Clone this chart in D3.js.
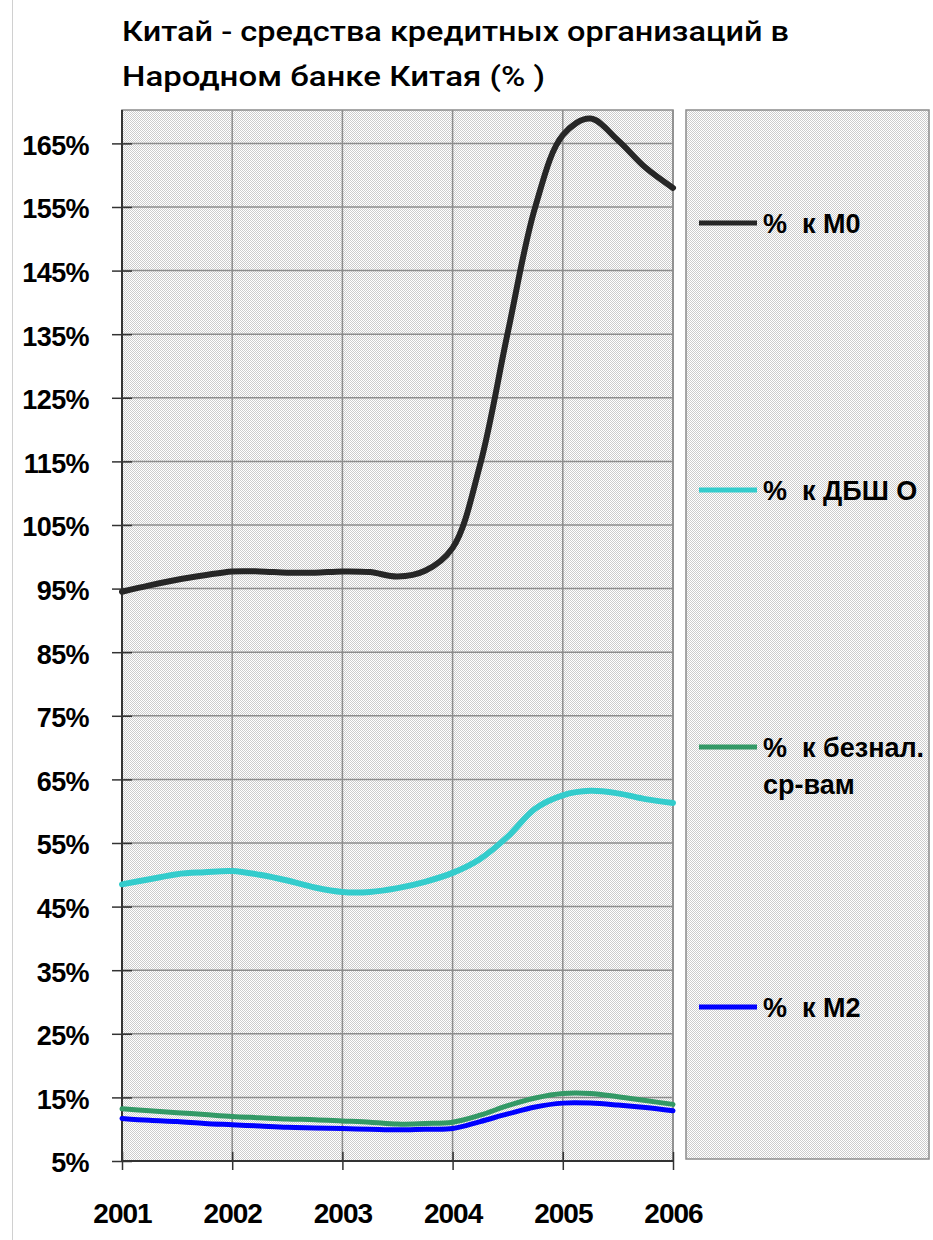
<!DOCTYPE html>
<html>
<head>
<meta charset="utf-8">
<title>Китай - средства кредитных организаций</title>
<script src="https://d3js.org/d3.v7.min.js"></script>
<style>
  body { margin: 0; background: #fff; }
  svg text { font-family: "Liberation Sans", Arial, sans-serif; fill: #000; }
  .lbl { font-weight: bold; font-size: 27px; }
  .title { font-family: Roboto, "Liberation Sans", Arial, sans-serif; font-weight: 500; font-size: 28px; }
</style>
</head>
<body>
<svg id="chart" width="933" height="1240"></svg>
<script>
// quarterly points, 2001 - 2006
const periods = [2001, 2001.25, 2001.5, 2001.75, 2002, 2002.25, 2002.5, 2002.75,
                 2003, 2003.25, 2003.5, 2003.75, 2004, 2004.25, 2004.5, 2004.75,
                 2005, 2005.25, 2005.5, 2005.75, 2006];
const pctM0     = [94.5, 95.5, 96.4, 97.1, 97.7, 97.7, 97.5, 97.5, 97.7, 97.6, 96.9, 97.8,
                   101.4, 114.5, 135.2, 155.0, 166.3, 168.9, 165.5, 161.2, 158.0];
const pctDBSh   = [48.5, 49.3, 50.1, 50.4, 50.6, 50.0, 49.1, 48.0, 47.3, 47.3, 47.9, 48.9,
                   50.3, 52.5, 56.0, 60.4, 62.5, 63.2, 62.8, 61.9, 61.3];
const pctBeznal = [13.2, 12.9, 12.6, 12.3, 12.0, 11.8, 11.6, 11.5, 11.3, 11.1, 10.8, 10.9,
                   11.1, 12.2, 13.7, 14.9, 15.6, 15.6, 15.1, 14.5, 13.9];
const pctM2     = [11.7, 11.4, 11.2, 10.9, 10.7, 10.5, 10.3, 10.2, 10.1, 10.0, 9.9, 10.0,
                   10.1, 11.2, 12.4, 13.5, 14.1, 14.1, 13.8, 13.4, 12.9];

const yearTicks = [2001, 2002, 2003, 2004, 2005, 2006];
const pctTicks  = [5, 15, 25, 35, 45, 55, 65, 75, 85, 95, 105, 115, 125, 135, 145, 155, 165];
const seriesNames = [["%  к М0"], ["%  к ДБШ О"], ["%  к безнал.", "ср-вам"], ["%  к М2"]];
const titleLines = ["Китай - средства кредитных организаций в", "Народном банке Китая (% )"];

const series = [pctM0, pctDBSh, pctBeznal, pctM2];
const colors = ["#262626", "#33cccc", "#339966", "#0000ff"];
const widths = [6, 6, 5, 5];

var svg = d3.select("#chart");
var pLeft = 122, pRight = 673, pTop = 110, pBottom = 1161;

var x = d3.scaleLinear().domain([2001, 2006]).range([pLeft, pRight]);
var y = d3.scaleLinear().domain([5, 170.25]).range([pBottom, pTop]);

// dotted background fill
var defs = svg.append("defs");
var pat = defs.append("pattern").attr("id", "dots")
  .attr("width", 2).attr("height", 2).attr("patternUnits", "userSpaceOnUse");
pat.append("rect").attr("width", 2).attr("height", 2).attr("fill", "#ffffff");
pat.append("rect").attr("width", 1).attr("height", 1).attr("fill", "#cccccc");
pat.append("rect").attr("x", 1).attr("y", 1).attr("width", 1).attr("height", 1).attr("fill", "#cccccc");

// faint page edge
svg.append("line").attr("x1", 12.5).attr("x2", 12.5).attr("y1", 0).attr("y2", 1240)
  .attr("stroke", "#d0d0d0").attr("stroke-width", 1);

// title
svg.selectAll(".title").data(titleLines).enter().append("text")
  .attr("class", "title")
  .attr("x", 122)
  .attr("y", (d, i) => 41 + i * 45)
  .attr("textLength", (d, i) => i == 0 ? 667 : 423)
  .attr("lengthAdjust", "spacingAndGlyphs")
  .text(d => d);

// plot area
svg.append("rect").attr("x", pLeft).attr("y", pTop)
  .attr("width", pRight - pLeft).attr("height", pBottom - pTop)
  .attr("fill", "url(#dots)").attr("stroke", "#8c8c8c").attr("stroke-width", 1.5);

// grid
svg.append("g").selectAll("line").data(pctTicks.slice(1)).enter().append("line")
  .attr("x1", pLeft).attr("x2", pRight)
  .attr("y1", d => y(d)).attr("y2", d => y(d))
  .attr("stroke", "#8c8c8c").attr("stroke-width", 1.5);
svg.append("g").selectAll("line").data(yearTicks.slice(1)).enter().append("line")
  .attr("x1", d => x(d)).attr("x2", d => x(d))
  .attr("y1", pTop).attr("y2", pBottom)
  .attr("stroke", "#8c8c8c").attr("stroke-width", 1.5);

// axes
var yAxis = d3.axisLeft(y).tickValues(pctTicks).tickSize(10).tickFormat(d => d + "%");
var gy = svg.append("g").attr("transform", "translate(" + pLeft + ",0)").call(yAxis);
gy.select(".domain").remove();
gy.selectAll(".tick line").attr("x2", -10).attr("x1", 10).attr("stroke", "#333").attr("stroke-width", 1.5);
gy.selectAll(".tick text").attr("class", "lbl").attr("x", -33).attr("dy", "0.4em")
  .style("font-family", "'Liberation Sans', Arial, sans-serif").style("font-size", "27px")
  .style("letter-spacing", "-0.6px");

var xAxis = d3.axisBottom(x).tickValues(yearTicks).tickSize(9).tickFormat(d3.format("d"));
var gx = svg.append("g").attr("transform", "translate(0," + pBottom + ")").call(xAxis);
gx.select(".domain").remove();
gx.selectAll(".tick line").attr("y1", -9).attr("y2", 9).attr("stroke", "#333").attr("stroke-width", 1.5);
gx.selectAll(".tick text").attr("class", "lbl").attr("y", 62).attr("dy", 0)
  .style("font-family", "'Liberation Sans', Arial, sans-serif").style("font-size", "28px")
  .style("letter-spacing", "-1px");

svg.append("line").attr("x1", pLeft).attr("x2", pLeft).attr("y1", pTop).attr("y2", pBottom)
  .attr("stroke", "#333").attr("stroke-width", 2);
svg.append("line").attr("x1", pLeft).attr("x2", pRight).attr("y1", pBottom).attr("y2", pBottom)
  .attr("stroke", "#333").attr("stroke-width", 2);

// lines
var line = d3.line().x((d, i) => x(periods[i])).y(d => y(d)).curve(d3.curveCatmullRom);
series.forEach(function(s, k) {
  svg.append("path").datum(s)
    .attr("d", line)
    .attr("fill", "none")
    .attr("stroke", colors[k])
    .attr("stroke-width", widths[k])
    .attr("stroke-linejoin", "round")
    .attr("stroke-linecap", "round");
});

// legend
svg.append("rect").attr("x", 686).attr("y", pTop).attr("width", 243).attr("height", 1049)
  .attr("fill", "url(#dots)").attr("stroke", "#8c8c8c").attr("stroke-width", 1.5);
var legendY = [223, 490, 747, 1007];
var lg = svg.append("g").selectAll("g").data(seriesNames).enter().append("g")
  .attr("transform", (d, i) => "translate(0," + legendY[i] + ")");
lg.append("line").attr("x1", 699).attr("x2", 757).attr("y1", 0).attr("y2", 0)
  .attr("stroke", (d, i) => colors[i]).attr("stroke-width", 5);
lg.each(function(d) {
  var t = d3.select(this).append("text").attr("class", "lbl").attr("xml:space", "preserve")
    .style("white-space", "pre");
  d.forEach(function(s, j) {
    t.append("tspan").attr("x", 763).attr("y", 10 + j * 37).text(s);
  });
});
</script>
</body>
</html>
